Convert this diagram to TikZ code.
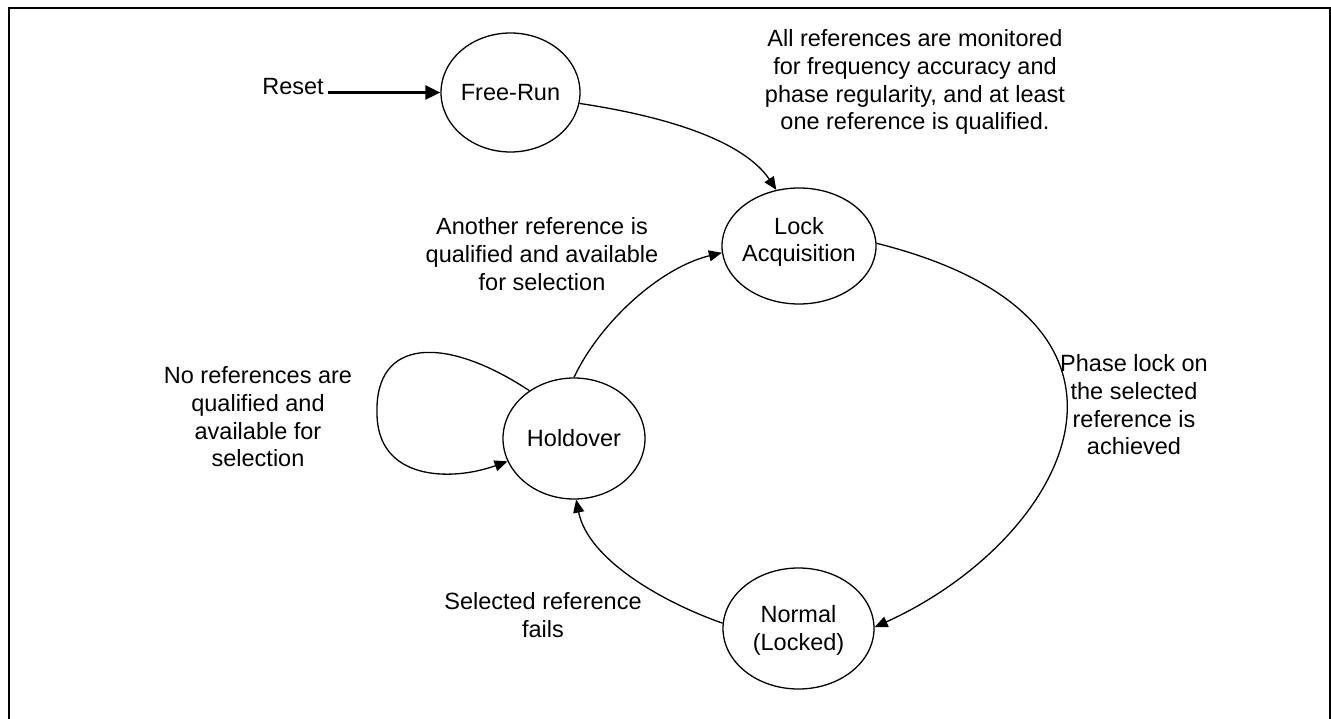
\documentclass[tikz,border=0pt]{standalone}
\usepackage{fontspec}
\setmainfont{Liberation Sans}
\usetikzlibrary{shapes.geometric,arrows.meta}
\begin{document}
\begin{tikzpicture}[x=1pt,y=-1pt,
  state/.style={ellipse,draw,line width=1.3pt,inner sep=0pt},
  txt/.style={font=\fontsize{23.5}{27.7}\selectfont,align=center,inner sep=0pt},
  conn/.style={line width=1.3pt,-{Triangle[length=13pt,width=11pt]}},
  resetarrow/.style={line width=2.3pt,-{Triangle[length=15pt,width=14pt]},shorten <=4pt},
  frame/.style={line width=2pt}
  ]
\useasboundingbox (0,0) rectangle (1331,719);
\draw[frame] (9,719) -- (9,8) -- (1330,8) -- (1330,719);

% states
\node[state,minimum width=139pt,minimum height=119pt,
      label={[txt]center:Free-Run}] (fr) at (510.5,92.5) {};
\node[state,minimum width=154pt,minimum height=116pt,
      label={[txt,yshift=4pt]center:{Lock\\Acquisition}}] (la) at (799,246) {};
\node[state,minimum width=142pt,minimum height=121pt,
      label={[txt]center:Holdover}] (ho) at (574,438.5) {};
\node[state,minimum width=151pt,minimum height=121pt,
      label={[txt,yshift=-2pt]center:{Normal\\(Locked)}}] (no) at (798.5,628.5) {};

% texts
\node[txt,anchor=base] (reset) at (293,95) {Reset};
\node[txt] (t1) at (915,82.2) {All references are monitored\\for frequency accuracy and\\phase regularity, and at least\\one reference is qualified.};
\node[txt] (t2) at (542,254) {Another reference is\\qualified and available\\for selection};
\node[txt] (t3) at (1134,405) {Phase lock on\\the selected\\reference is\\achieved};
\node[txt] (t4) at (258,417) {No references are\\qualified and\\available for\\selection};
\node[txt] (t5) at (543,615.3) {Selected reference\\fails};

% connectors
\draw[resetarrow] (reset.east |- fr.center) -- (fr.west);
\draw[conn] (fr.-9) .. controls +(100,15) and +(-30,-45) .. (la.112);
\draw[conn] (la.2) .. controls +(311,78) and +(190,-86) .. (no.1);
\draw[conn] (no.176) .. controls +(-60,-21) and +(12,60) .. (ho.-88);
\draw[conn] (ho.90) .. controls +(26,-55) and +(-62,15) .. (la.185);
\draw[conn] (ho.133) .. controls (445,335) and (375,338) .. (377,413)
            .. controls (377,480) and (450,482) .. (ho.199);
\end{tikzpicture}
\end{document}
